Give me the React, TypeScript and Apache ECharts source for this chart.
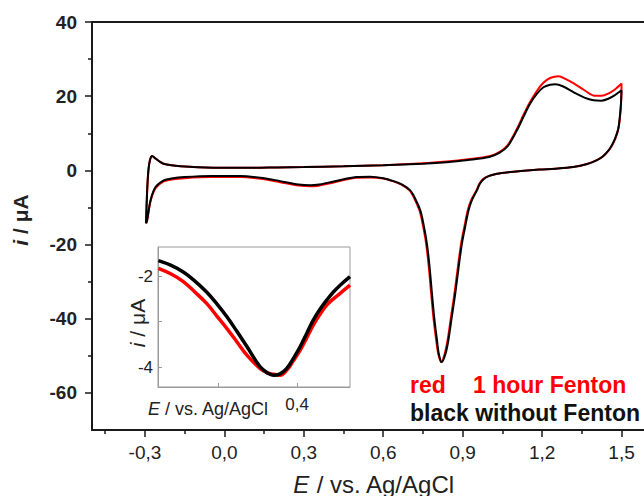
import React, { useEffect, useRef } from "react";
import * as echarts from "echarts";

// Main CV (black = without Fenton), ordered along the scan
const blackMain: [number, number][] = [
  [-0.296, -14.3], [-0.292, -6], [-0.287, 0], [-0.281, 2.8], [-0.273, 3.9], [-0.262, 3.3],
  [-0.245, 2.4], [-0.23, 1.8], [-0.2, 1.35], [-0.166, 1.1], [-0.1, 0.85], [0.0, 0.7],
  [0.1, 0.7], [0.2, 0.8], [0.3, 0.9], [0.45, 1.1], [0.6, 1.4], [0.75, 1.8], [0.84, 2.2],
  [0.92, 2.8], [1.0, 3.6], [1.04, 4.8], [1.07, 6.5], [1.105, 10.8], [1.13, 14.5],
  [1.155, 18], [1.18, 20.6], [1.205, 22.4], [1.23, 23.1], [1.25, 23.2], [1.28, 22.6],
  [1.318, 21.1], [1.36, 19.6], [1.394, 18.9], [1.425, 18.8], [1.45, 19.3], [1.475, 20.3],
  [1.5, 21.6],
  [1.498, 18], [1.493, 14], [1.487, 11], [1.475, 8.5], [1.462, 6.6], [1.45, 5.3],
  [1.43, 3.8], [1.406, 2.7], [1.37, 1.7], [1.318, 0.9], [1.25, 0.45], [1.19, 0.2],
  [1.12, -0.2], [1.08, -0.45], [1.03, -0.9], [1.0, -1.5], [0.98, -2.3], [0.965, -3.6],
  [0.954, -5.4], [0.935, -8], [0.922, -10.8], [0.91, -15], [0.897, -19.8], [0.885, -26],
  [0.872, -33.2], [0.858, -40], [0.846, -45.8], [0.835, -49.5], [0.821, -51.7],
  [0.81, -49.5], [0.803, -45.8], [0.793, -40], [0.784, -33.2], [0.775, -26],
  [0.765, -19.8], [0.752, -14.5], [0.74, -10.8], [0.72, -7.5], [0.702, -5.4],
  [0.67, -3.8], [0.639, -2.9], [0.6, -2.1], [0.55, -1.7], [0.5, -1.8], [0.45, -2.4],
  [0.4, -3.2], [0.35, -3.9], [0.325, -4.0], [0.28, -3.8], [0.211, -2.9], [0.15, -2.1],
  [0.06, -1.5], [-0.05, -1.5], [-0.15, -1.8], [-0.2, -2.2], [-0.229, -2.7],
  [-0.26, -4.5], [-0.279, -8.1], [-0.292, -13.5], [-0.296, -14.3],
];

// Main CV (red = 1 hour Fenton)
const redMain: [number, number][] = [
  [-0.296, -14.3], [-0.292, -6], [-0.287, 0], [-0.281, 2.8], [-0.273, 3.9], [-0.262, 3.3],
  [-0.245, 2.4], [-0.23, 1.8], [-0.2, 1.35], [-0.166, 1.1], [-0.1, 0.85], [0.0, 0.7],
  [0.1, 0.7], [0.2, 0.8], [0.3, 0.9], [0.45, 1.1], [0.6, 1.4], [0.75, 1.9], [0.84, 2.4],
  [0.92, 3.0], [1.0, 3.8], [1.04, 5.0], [1.07, 6.8], [1.105, 11.2], [1.13, 15.0],
  [1.155, 18.5], [1.18, 21.4], [1.205, 23.6], [1.23, 24.9], [1.262, 25.4], [1.29, 24.6],
  [1.318, 23.5], [1.36, 21.6], [1.394, 20.2], [1.425, 20.1], [1.45, 20.7], [1.475, 21.8],
  [1.5, 23.4],
  [1.499, 19.5], [1.495, 15], [1.489, 11.5], [1.478, 8.8], [1.465, 6.8], [1.452, 5.4],
  [1.432, 3.9], [1.408, 2.8], [1.37, 1.7], [1.318, 0.9], [1.25, 0.45], [1.19, 0.2],
  [1.12, -0.2], [1.08, -0.45], [1.03, -0.9], [1.0, -1.5], [0.978, -2.3], [0.963, -3.6],
  [0.952, -5.4], [0.932, -8], [0.919, -10.8], [0.907, -15], [0.894, -19.8], [0.882, -26],
  [0.869, -33.2], [0.855, -40], [0.843, -45.8], [0.832, -49.5], [0.819, -51.7],
  [0.808, -49.5], [0.8, -45.8], [0.79, -40], [0.781, -33.2], [0.772, -26],
  [0.762, -19.8], [0.749, -14.5], [0.737, -10.8], [0.717, -7.5], [0.699, -5.4],
  [0.667, -3.8], [0.636, -2.9], [0.6, -2.2], [0.55, -1.9], [0.5, -2.0], [0.45, -2.6],
  [0.4, -3.5], [0.35, -4.2], [0.325, -4.3], [0.28, -4.1], [0.211, -3.2], [0.15, -2.4],
  [0.06, -1.8], [-0.05, -1.8], [-0.15, -2.1], [-0.2, -2.5], [-0.229, -3.0],
  [-0.26, -4.8], [-0.279, -8.3], [-0.292, -13.6], [-0.296, -14.3],
];

// Inset (zoom of the cathodic wave near 0.3 V)
const blackInset: [number, number][] = [
  [0.049, -1.66], [0.08, -1.76], [0.112, -1.91], [0.14, -2.1], [0.171, -2.35],
  [0.196, -2.6], [0.222, -2.89], [0.248, -3.22], [0.273, -3.55], [0.306, -3.99],
  [0.325, -4.13], [0.34, -4.18], [0.357, -4.15], [0.374, -4.03], [0.39, -3.82],
  [0.408, -3.55], [0.425, -3.25], [0.441, -2.97], [0.458, -2.73], [0.475, -2.53],
  [0.492, -2.35], [0.509, -2.2], [0.534, -2.01],
];
const redInset: [number, number][] = [
  [0.049, -1.83], [0.08, -1.95], [0.112, -2.12], [0.14, -2.34], [0.171, -2.6],
  [0.196, -2.87], [0.222, -3.15], [0.248, -3.45], [0.273, -3.74], [0.306, -4.03],
  [0.325, -4.13], [0.34, -4.16], [0.357, -4.18], [0.374, -4.07], [0.39, -3.87],
  [0.408, -3.63], [0.425, -3.35], [0.441, -3.08], [0.458, -2.84], [0.475, -2.64],
  [0.492, -2.5], [0.509, -2.38], [0.534, -2.2],
];

// Tick values
const xMajorTicks = [-0.3, 0.0, 0.3, 0.6, 0.9, 1.2, 1.5];
const xMinorTicks = [-0.45, -0.15, 0.15, 0.45, 0.75, 1.05, 1.35];
const yMajorTicks = [-60, -40, -20, 0, 20, 40];
const yMinorTicks = [-50, -30, -10, 10, 30];
const insetXTicks = [0.2, 0.4];
const insetXLabels = [0.4];
const insetYTicks = [-4, -3, -2];
const insetYLabels = [-4, -2];

const AX = "#1a1a1a";
const FONT = "Liberation Sans, Arial, sans-serif";
const comma = (v: number) => v.toFixed(1).replace(".", ",");

export default function App() {
  const ref = useRef<HTMLDivElement>(null);
  useEffect(() => {
    if (!ref.current) return;
    const chart = echarts.init(ref.current, undefined, { renderer: "svg" });
    const hidden = { show: false };
    chart.setOption({
      animation: false,
      backgroundColor: "#fff",
      textStyle: { fontFamily: FONT },
      grid: [
        { left: 92, top: 22, width: 556, height: 408 },
        {
          left: 158, top: 247, width: 192, height: 140, show: true,
          backgroundColor: "#fff", borderColor: "#9a9a9a", borderWidth: 1, z: 5,
        },
      ],
      xAxis: [
        {
          type: "value", gridIndex: 0, position: "bottom", min: -0.5, max: 1.6,
          axisLine: { show: true, onZero: false, lineStyle: { color: AX, width: 2 } },
          axisTick: { show: true, inside: false, length: 7, customValues: xMajorTicks, lineStyle: { color: AX, width: 1.5 } },
          axisLabel: { show: true, customValues: xMajorTicks, formatter: comma, margin: 13, fontSize: 19, color: "#222", fontFamily: FONT },
          splitLine: hidden,
        },
        {
          type: "value", gridIndex: 0, position: "bottom", min: -0.5, max: 1.6,
          axisLine: { show: false, onZero: false },
          axisTick: { show: true, inside: false, length: 4, customValues: xMinorTicks, lineStyle: { color: AX, width: 1.5 } },
          axisLabel: hidden, splitLine: hidden,
        },
        {
          type: "value", gridIndex: 0, position: "top", min: -0.5, max: 1.6,
          axisLine: { show: true, onZero: false, lineStyle: { color: AX, width: 2 } },
          axisTick: hidden, axisLabel: hidden, splitLine: hidden,
        },
        {
          type: "value", gridIndex: 1, position: "bottom", min: 0.048, max: 0.534,
          axisLine: { show: true, onZero: false, lineStyle: { color: "#9a9a9a", width: 1 } },
          axisTick: { show: true, inside: true, length: 4, customValues: insetXTicks, lineStyle: { color: "#9a9a9a" } },
          axisLabel: { show: true, customValues: insetXLabels, formatter: comma, margin: 9, fontSize: 17, color: "#222", fontFamily: FONT },
          splitLine: hidden, z: 6,
        },
      ],
      yAxis: [
        {
          type: "value", gridIndex: 0, position: "left", min: -70, max: 40,
          axisLine: { show: true, onZero: false, lineStyle: { color: AX, width: 2 } },
          axisTick: { show: true, inside: false, length: 7, customValues: yMajorTicks, lineStyle: { color: AX, width: 1.5 } },
          axisLabel: { show: true, customValues: yMajorTicks, margin: 15, fontSize: 19, fontWeight: "bold", color: "#222", fontFamily: FONT },
          splitLine: hidden,
        },
        {
          type: "value", gridIndex: 0, position: "left", min: -70, max: 40,
          axisLine: { show: false, onZero: false },
          axisTick: { show: true, inside: false, length: 4, customValues: yMinorTicks, lineStyle: { color: AX, width: 1.5 } },
          axisLabel: hidden, splitLine: hidden,
        },
        {
          type: "value", gridIndex: 1, position: "left", min: -4.44, max: -1.36,
          axisLine: { show: true, onZero: false, lineStyle: { color: "#9a9a9a", width: 1 } },
          axisTick: { show: true, inside: true, length: 4, customValues: insetYTicks, lineStyle: { color: "#9a9a9a" } },
          axisLabel: { show: true, customValues: insetYLabels, margin: 5, fontSize: 17, color: "#222", fontFamily: FONT },
          splitLine: hidden, z: 6,
        },
      ],
      series: [
        {
          type: "line", xAxisIndex: 0, yAxisIndex: 0, data: redMain, showSymbol: false,
          smooth: 0.3, lineStyle: { color: "#ff0000", width: 2 }, z: 2,
        },
        {
          type: "line", xAxisIndex: 0, yAxisIndex: 0, data: blackMain, showSymbol: false,
          smooth: 0.3, lineStyle: { color: "#000", width: 2 }, z: 3,
        },
        {
          type: "line", xAxisIndex: 3, yAxisIndex: 2, data: redInset, showSymbol: false,
          smooth: 0.4, lineStyle: { color: "#ff0000", width: 3.5 }, z: 7,
        },
        {
          type: "line", xAxisIndex: 3, yAxisIndex: 2, data: blackInset, showSymbol: false,
          smooth: 0.4, lineStyle: { color: "#000", width: 3.5 }, z: 8,
        },
      ],
      graphic: [
        {
          type: "text", x: 20, y: 220, rotation: Math.PI / 2, z: 10,
          style: {
            text: "{it|i} / μA", fill: "#222", font: `bold 21px ${FONT}`,
            align: "center", verticalAlign: "middle",
            rich: { it: { fontStyle: "italic", fontWeight: "bold", fontSize: 21, fontFamily: FONT } },
          },
        },
        {
          type: "text", x: 374, y: 484, z: 10,
          style: {
            text: "{it|E} / vs. Ag/AgCl", fill: "#222", font: `24px ${FONT}`,
            align: "center", verticalAlign: "middle",
            rich: { it: { fontStyle: "italic", fontSize: 24, fontFamily: FONT } },
          },
        },
        {
          type: "text", x: 137, y: 323, rotation: Math.PI / 2, z: 10,
          style: {
            text: "{it|i} / μA", fill: "#222", font: `21px ${FONT}`,
            align: "center", verticalAlign: "middle",
            rich: { it: { fontStyle: "italic", fontSize: 21, fontFamily: FONT } },
          },
        },
        {
          type: "text", x: 148, y: 409, z: 10,
          style: {
            text: "{it|E} / vs. Ag/AgCl", fill: "#222", font: `18px ${FONT}`,
            align: "left", verticalAlign: "middle",
            rich: { it: { fontStyle: "italic", fontSize: 18, fontFamily: FONT } },
          },
        },
        {
          type: "text", x: 410, y: 385, z: 10,
          style: { text: "red", fill: "#ff0000", font: `bold 23px ${FONT}`, align: "left", verticalAlign: "middle" },
        },
        {
          type: "text", x: 473, y: 385, z: 10,
          style: { text: "1 hour Fenton", fill: "#ff0000", font: `bold 23px ${FONT}`, align: "left", verticalAlign: "middle" },
        },
        {
          type: "text", x: 410, y: 413, z: 10,
          style: { text: "black without Fenton", fill: "#111", font: `bold 23px ${FONT}`, align: "left", verticalAlign: "middle" },
        },
      ],
    });
    return () => chart.dispose();
  }, []);
  return (
    <div
      ref={ref}
      style={{ position: "fixed", left: 0, top: 0, width: 660, height: 496 }}
    />
  );
}
